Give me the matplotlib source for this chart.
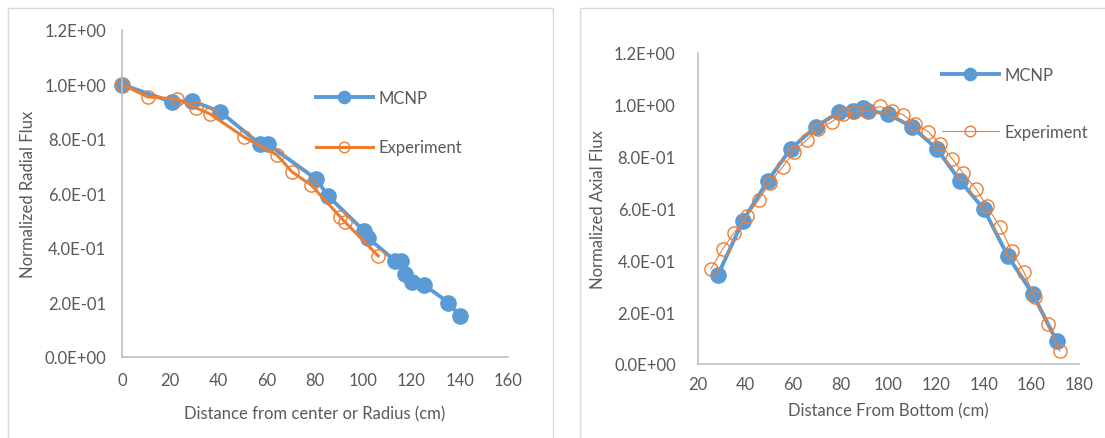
import matplotlib
matplotlib.use("Agg")
import matplotlib.pyplot as plt
from matplotlib.patches import Rectangle
from matplotlib.ticker import FuncFormatter

plt.rcParams['font.family'] = ['Lato', 'DejaVu Sans']

# ---- Data: radial ----
rad_mcnp_x = [0, 20.7, 29, 40.7, 57.3, 60.6, 80.5, 85.5, 100.4, 102, 113.3, 115.8, 117.4, 120.3, 125.3, 135.3, 140.2]
rad_mcnp_y = [1.0, 0.936, 0.94, 0.90, 0.78, 0.78, 0.653, 0.59, 0.462, 0.437, 0.352, 0.352, 0.305, 0.275, 0.264, 0.20, 0.15]
rad_exp_x = [0, 10.8, 22.8, 30.7, 36.5, 50.6, 64.3, 70.5, 78.4, 90.5, 92.5, 106.2]
rad_exp_y = [1.0, 0.954, 0.947, 0.914, 0.892, 0.807, 0.741, 0.679, 0.631, 0.514, 0.495, 0.371]

# ---- Data: axial ----
ax_mcnp_x = [28.4, 38.8, 49.3, 58.9, 69.4, 79.4, 85.3, 89.5, 91.5, 99.7, 109.9, 120.3, 130.0, 140.0, 150.1, 160.6, 170.6]
ax_mcnp_y = [0.344, 0.552, 0.707, 0.830, 0.915, 0.973, 0.977, 0.988, 0.977, 0.965, 0.915, 0.830, 0.707, 0.598, 0.417, 0.270, 0.089]
ax_exp_x = [25.4, 30.4, 35.1, 40.5, 45.5, 50.1, 55.6, 60.2, 65.6, 70.6, 76.1, 80.7, 85.7, 91.1, 96.4,
            101.6, 106.2, 111.2, 116.7, 121.7, 126.7, 131.3, 136.7, 141.3, 146.8, 151.8, 156.8, 161.4, 166.9, 171.9]
ax_exp_y = [0.367, 0.444, 0.506, 0.571, 0.633, 0.699, 0.761, 0.819, 0.865, 0.907, 0.934, 0.965, 0.973, 0.977, 0.994,
            0.977, 0.961, 0.927, 0.896, 0.849, 0.792, 0.737, 0.676, 0.610, 0.529, 0.436, 0.355, 0.259, 0.154, 0.050]

rad_xticks = [0, 20, 40, 60, 80, 100, 120, 140, 160]
ax_xticks = [20, 40, 60, 80, 100, 120, 140, 160, 180]
yticks = [0.0, 0.2, 0.4, 0.6, 0.8, 1.0, 1.2]

BLUE = '#5B9BD5'
ORANGE = '#ED7D31'
TXT = '#595959'
AXC = '#BFBFBF'
FS = 12
W, H = 1105, 439

fig = plt.figure(figsize=(W / 100, H / 100), dpi=100)

# chart frames
fig.patches.append(Rectangle((8 / W, -0.05), (553 - 8) / W, 1 - 9 / H + 0.05,
                             transform=fig.transFigure, fill=False, edgecolor='#D9D9D9', lw=1))
fig.patches.append(Rectangle((580 / W, -0.05), 0.5, 1 - 9 / H + 0.05,
                             transform=fig.transFigure, fill=False, edgecolor='#D9D9D9', lw=1))

def sci(v, pos):
    return f"{v:.1E}"

def style(ax, xticks, xlim, ypad, xpad):
    ax.set_xlim(*xlim)
    ax.set_ylim(0, 1.2)
    ax.set_xticks(xticks)
    ax.set_yticks(yticks)
    ax.yaxis.set_major_formatter(FuncFormatter(sci))
    for s in ['top', 'right']:
        ax.spines[s].set_visible(False)
    for s in ['left', 'bottom']:
        ax.spines[s].set_color(AXC)
        ax.spines[s].set_linewidth(1.2)
    ax.tick_params(length=0, labelsize=FS, labelcolor=TXT)
    ax.tick_params(axis='y', pad=ypad)
    ax.tick_params(axis='x', pad=xpad)

# left
ax1 = fig.add_axes([122 / W, 1 - 358 / H, (508 - 122) / W, (358 - 31) / H])
style(ax1, rad_xticks, (0, 160), 11.5, 10.5)
ax1.plot(rad_mcnp_x, rad_mcnp_y, '-o', color=BLUE, lw=2.8, ms=11, label='MCNP', clip_on=False)
ax1.plot(rad_exp_x, rad_exp_y, '-o', color=ORANGE, lw=2.2, ms=9.5, mfc='none', mew=1, label='Experiment', clip_on=False)
ax1.set_xlabel('Distance from center or Radius (cm)', fontsize=FS, color=TXT, labelpad=13)
ax1.set_ylabel('Normalized Radial Flux', fontsize=FS, color=TXT, labelpad=6)
leg1 = ax1.legend(loc='upper left', bbox_to_anchor=(316 / W, 1 - 91 / H), bbox_transform=fig.transFigure,
                  frameon=False, fontsize=FS, labelspacing=2.0, handlelength=3.4, handletextpad=0.35,
                  borderpad=0, borderaxespad=0, markerscale=0.8)
for t in leg1.get_texts():
    t.set_color(TXT)

# right
ax2 = fig.add_axes([698 / W, 1 - 365 / H, (1079 - 698) / W, (365 - 54) / H])
style(ax2, ax_xticks, (20, 180), 16, 9)
ax2.plot(ax_mcnp_x, ax_mcnp_y, '-o', color=BLUE, lw=2.8, ms=11, label='MCNP', clip_on=False)
ax2.plot(ax_exp_x, ax_exp_y, '-o', color=ORANGE, lw=0.8, ms=9.5, mfc='none', mew=1, label='Experiment', clip_on=False)
ax2.set_xlabel('Distance From Bottom (cm)', fontsize=FS, color=TXT, labelpad=7)
ax2.set_ylabel('Normalized Axial Flux', fontsize=FS, color=TXT, labelpad=6)
leg2 = ax2.legend(loc='upper left', bbox_to_anchor=(942 / W, 1 - 68 / H), bbox_transform=fig.transFigure,
                  frameon=False, fontsize=FS, labelspacing=2.46, handlelength=3.4, handletextpad=0.35,
                  borderpad=0, borderaxespad=0, markerscale=0.8)
for t in leg2.get_texts():
    t.set_color(TXT)

fig.savefig('out.png', dpi=100)
